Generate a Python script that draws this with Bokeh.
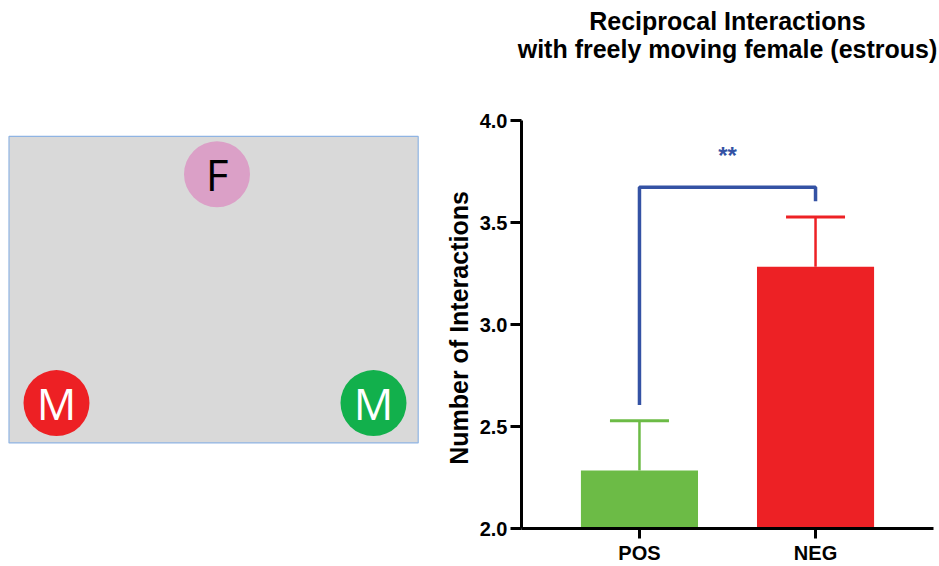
from bokeh.plotting import figure
from bokeh.layouts import row
from bokeh.models import (ColumnDataSource, Range1d, FactorRange, FixedTicker,
                          Whisker, TeeHead, Label, Title)
from bokeh.core.properties import value
from bokeh.embed import file_html
from bokeh.resources import INLINE

# ---------------- data ----------------
categories = ["POS", "NEG"]
means = [2.284, 3.283]
sems = [0.244, 0.244]
bar_colors = ["#6CBB46", "#ED2125"]
y_ticks = [2.0, 2.5, 3.0, 3.5, 4.0]
y_tick_labels = ["2.0", "2.5", "3.0", "3.5", "4.0"]
sig_text = "**"
bracket_top = 3.673
bracket_gap = 0.077
stars_y = 3.83
title_lines = ["Reciprocal Interactions", "with freely moving female (estrous)"]

# arena diagram: animals
animal_labels = ["F", "M", "M"]
animal_x = [208, 47.5, 364.5]
animal_y = [270, 40, 40]
animal_fill = ["#DBA0C7", "#ED2024", "#12B04C"]
animal_text_color = ["#000000", "#FFFFFF", "#FFFFFF"]

FONT = "Liberation Sans"
TOP, BOTTOM = 120, 36

# ---------------- left: arena diagram ----------------
left = figure(width=430, height=566, output_backend="svg", toolbar_location=None,
              x_range=Range1d(-8.5, 421.5), y_range=Range1d(-86, 324),
              x_axis_location=None, y_axis_location=None,
              min_border_left=0, min_border_right=0,
              min_border_top=TOP, min_border_bottom=BOTTOM)
left.outline_line_color = None
left.xgrid.visible = False
left.ygrid.visible = False
left.quad(left=[0], right=[409.2], bottom=[0], top=[308],
          fill_color="#D9D9D9", line_color="#8FB4E3", line_width=1.2)
asrc = ColumnDataSource(dict(x=animal_x, y=animal_y,
                             label=animal_labels, fill=animal_fill,
                             tc=animal_text_color))
left.circle(x="x", y="y", radius=33, fill_color="fill", line_color=None, source=asrc)
left.text(x="x", y="y", text="label", text_color="tc", text_align="center",
          text_baseline="middle", text_font=value("Open Sans"),
          text_font_size="44px", source=asrc)

# ---------------- right: bar chart ----------------
p = figure(width=509, height=566, output_backend="svg", toolbar_location=None,
           x_range=FactorRange(*categories, range_padding=0.17,
                               range_padding_units="absolute"),
           y_range=Range1d(2.0, 4.0),
           min_border_left=91, min_border_right=6, min_border_top=TOP,
           min_border_bottom=BOTTOM)
p.outline_line_color = None
p.xgrid.visible = False
p.ygrid.visible = False

src = ColumnDataSource(dict(cat=categories, mean=means, sem=sems, color=bar_colors))
p.vbar(x="cat", top="mean", bottom=2.0, width=0.665, fill_color="color",
       line_color=None, source=src)

for c, m, s, col in zip(categories, means, sems, bar_colors):
    wsrc = ColumnDataSource(dict(base=[c], lower=[m], upper=[m + s]))
    w = Whisker(base="base", lower="lower", upper="upper", source=wsrc,
                dimension="height", line_color=col, line_width=2.5,
                upper_head=TeeHead(size=59, line_color=col, line_width=3),
                lower_head=None)
    p.add_layout(w)

# significance bracket
err_tops = [m + s for m, s in zip(means, sems)]
p.line(x=[categories[0], categories[0], categories[1], categories[1]],
       y=[err_tops[0] + bracket_gap, bracket_top, bracket_top, err_tops[1] + bracket_gap],
       line_color="#3452A4", line_width=3.5)
mid_x = (0.5 + 1.5) / 2  # synthetic coordinate halfway between the two categories
p.add_layout(Label(x=mid_x, y=stars_y, text=sig_text,
                   text_align="center", text_baseline="middle",
                   text_color="#3452A4", text_font=FONT, text_font_style="bold",
                   text_font_size="24px"))

# title: spacer (nearest the frame), then line 2, then p.title (line 1, outermost)
spacer = Title(text=" ", standoff=29)
p.add_layout(spacer, "above")
second = Title(text=title_lines[1], standoff=-2)
p.add_layout(second, "above")
p.title.text = title_lines[0]
p.title.standoff = -2
for t in (p.title, second, spacer):
    t.align = "center"
    t.text_font = FONT
    t.text_font_style = "bold"
    t.text_font_size = "25px"
    t.text_color = "black"

# axes
for ax in (p.xaxis[0], p.yaxis[0]):
    ax.axis_line_width = 3
    ax.axis_line_color = "black"
    ax.major_tick_line_width = 3
    ax.major_tick_line_color = "black"
    ax.major_tick_in = 0
    ax.minor_tick_line_color = None
    ax.major_label_text_font = FONT
    ax.major_label_text_font_style = "bold"
    ax.major_label_text_color = "black"
    ax.major_label_text_font_size = "20px"

p.yaxis.ticker = FixedTicker(ticks=y_ticks)
p.yaxis.major_label_overrides = {t: l for t, l in zip(y_ticks, y_tick_labels)}
p.yaxis.major_tick_out = 11
p.yaxis.major_label_standoff = 3
p.yaxis.axis_label = "Number of  Interactions"
p.yaxis.axis_label_text_font = FONT
p.yaxis.axis_label_text_font_style = "bold"
p.yaxis.axis_label_text_font_size = "25px"
p.yaxis.axis_label_text_color = "black"
p.yaxis.axis_label_standoff = 4

p.xaxis.major_tick_out = 10
p.xaxis.major_label_standoff = 3

layout = row(left, p)
open("out.html", "w").write(file_html(layout, INLINE))
